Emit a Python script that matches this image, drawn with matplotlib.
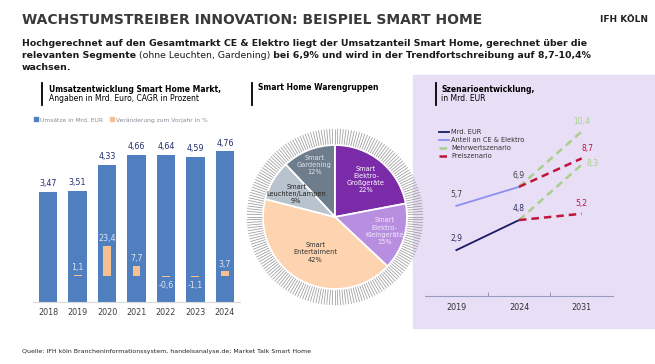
import numpy as np
import matplotlib.pyplot as plt
from matplotlib.patches import Rectangle, Patch
from matplotlib.lines import Line2D
from matplotlib.collections import LineCollection

# Umsatzentwicklung (Balken)
jahre = ["2018", "2019", "2020", "2021", "2022", "2023", "2024"]
umsatz = [3.47, 3.51, 4.33, 4.66, 4.64, 4.59, 4.76]
veraenderung = [np.nan, 1.1, 23.4, 7.7, -0.6, -1.1, 3.7]

# Warengruppen (Kuchen)
pie_labels = ["Smart\nGardening", "Smart\nElektro-\nGroßgeräte", "Smart\nElektro-\nKleingeräte",
              "Smart\nEntertaiment", "Smart\nLeuchten/Lampen"]
pie_anteile = [12, 22, 15, 42, 9]

# Szenarioentwicklung (Linien)
szen_jahre = ["2019", "2024", "2031"]
mrd_eur = [2.9, 4.8]          # 2019, 2024
anteil = [5.7, 6.9]           # 2019, 2024
mehrwert_anteil = [6.9, 10.4]  # 2024, 2031
mehrwert_mrd = [4.8, 8.3]
preis_anteil = [6.9, 8.7]
preis_mrd = [4.8, 5.2]

W, H = 655, 364
def fx(p): return p / W
def fy(p): return 1 - p / H

def de(v, n=1):
    return f"{v:.{n}f}".replace(".", ",")

fig = plt.figure(figsize=(6.55, 3.64), dpi=100)
rend = fig.canvas.get_renderer()

# lavender background right panel
fig.add_artist(Rectangle((fx(413), fy(328)), fx(655) - fx(413), fy(75) - fy(328),
                         transform=fig.transFigure, color="#e8def6", zorder=0))

# title + subtitle
fig.text(fx(22), fy(20), "WACHSTUMSTREIBER INNOVATION: BEISPIEL SMART HOME",
         fontsize=10, fontweight="bold", color="#3a3a3a", va="center")
fig.text(fx(648), fy(20), "IFH KÖLN", fontsize=6.5, fontweight="bold", color="#222222",
         ha="right", va="center")

sub_col = "#1a1a1a"
sub_fs = 6.75
fig.text(fx(22), fy(44), "Hochgerechnet auf den Gesamtmarkt CE & Elektro liegt der Umsatzanteil Smart Home, gerechnet über die",
         fontsize=sub_fs, fontweight="bold", color=sub_col, va="center")
x = fx(22)
for s, w in [("relevanten Segmente", "bold"), (" (ohne Leuchten, Gardening)", "normal"),
             (" bei 6,9% und wird in der Trendfortschreibung auf 8,7-10,4%", "bold")]:
    t = fig.text(x, fy(56), s, fontsize=sub_fs, fontweight=w, color=sub_col, va="center")
    x += t.get_window_extent(renderer=rend).width / fig.bbox.width
fig.text(fx(22), fy(68), "wachsen.", fontsize=sub_fs, fontweight="bold", color=sub_col, va="center")

# panel headers
for bx in [42, 252, 436]:
    fig.add_artist(Line2D([fx(bx), fx(bx)], [fy(83), fy(105)], color="black", lw=1.3))
fig.text(fx(49), fy(89), "Umsatzentwicklung Smart Home Markt,", fontsize=5.5, fontweight="bold", va="center")
fig.text(fx(49), fy(98.5), "Angaben in Mrd. Euro, CAGR in Prozent", fontsize=5.5, va="center")
fig.text(fx(258), fy(88), "Smart Home Warengruppen", fontsize=5.5, fontweight="bold", va="center")
fig.text(fx(441), fy(89), "Szenarioentwicklung,", fontsize=5.5, fontweight="bold", va="center")
fig.text(fx(441), fy(98.5), "in Mrd. EUR", fontsize=5.5, va="center")

# ---------- bar chart ----------
blau = "#4f7fbf"
orange = "#f8c090"
ax = fig.add_axes([fx(33), fy(302), fx(240) - fx(33), fy(128) - fy(302)])
xs = np.arange(len(jahre))
ax.bar(xs, umsatz, width=0.64, color=blau, zorder=2)
for i, v in enumerate(umsatz):
    ax.text(i, v + 0.12, de(v, 2), ha="center", va="bottom", fontsize=5.8, color="#24306e")
ax.set_xlim(-0.51, 6.51)
ax.set_ylim(0, 5.5)
ax.set_xticks(xs)
ax.set_xticklabels(jahre, fontsize=5.8, color="#404040")
ax.tick_params(length=0, pad=4)
ax.set_yticks([])
for s in ["top", "right", "left"]:
    ax.spines[s].set_visible(False)
ax.spines["bottom"].set_color("#d9d9d9")
ax.patch.set_alpha(0)

ax2 = ax.twinx()
ax2.bar(xs, veraenderung, width=0.27, color=orange, zorder=3)
for i, v in enumerate(veraenderung):
    if np.isnan(v):
        continue
    if v >= 0:
        ax2.text(i, v + 2, de(v), ha="center", va="bottom", fontsize=5.8, color="#dde3f3")
    else:
        ax2.text(i, v - 3, de(v), ha="center", va="top", fontsize=5.8, color="#dde3f3")
ax2.set_ylim(-20, 114)
ax2.set_yticks([])
for s in ax2.spines.values():
    s.set_visible(False)

ax.legend(handles=[Patch(color=blau, label="Umsätze in Mrd. EUR"),
                   Patch(color=orange, label="Veränderung zum Vorjahr in %")],
          loc="center left", bbox_to_anchor=(fx(31), fy(120)), bbox_transform=fig.transFigure,
          ncol=2, frameon=False, fontsize=4.3, labelcolor="#8a8a9a", handlelength=0.6,
          handleheight=0.6, handletextpad=0.4, columnspacing=1.2, borderpad=0)

# ---------- pie ----------
pax = fig.add_axes([fx(335 - 90), fy(217 + 90), fx(180), 180 / H])
ang = np.deg2rad(np.arange(0, 360, 1.8))
segs = [[(0.81 * np.cos(a), 0.81 * np.sin(a)), (0.98 * np.cos(a), 0.98 * np.sin(a))] for a in ang]
pax.add_collection(LineCollection(segs, colors="#9a9a9a", linewidths=0.55))

pie_farben = ["#6e7d8c", "#7b2aa8", "#b88fe0", "#fdd3b0", "#b9c3cd"]
wedges, _ = pax.pie(pie_anteile, colors=pie_farben, startangle=90 + pie_anteile[0] * 3.6,
                    counterclock=False, radius=0.8,
                    wedgeprops=dict(edgecolor="white", linewidth=1.3))
pax.set_xlim(-1, 1)
pax.set_ylim(-1, 1)
pax.set_aspect("equal")
pax.axis("off")
label_r = [0.62, 0.54, 0.57, 0.45, 0.5]
label_col = ["#dfe4ea", "white", "#f3eafc", "#333333", "#222222"]
for w, lab, p, rr, c in zip(wedges, pie_labels, pie_anteile, label_r, label_col):
    mid = np.deg2rad((w.theta1 + w.theta2) / 2)
    pax.text(rr * np.cos(mid), rr * np.sin(mid), f"{lab}\n{p}%", ha="center", va="center",
             fontsize=4.8, color=c, linespacing=1.25)

# ---------- scenario lines ----------
lax = fig.add_axes([fx(425), fy(296), fx(613) - fx(425), fy(110) - fy(296)])
lax.patch.set_alpha(0)
xi = np.arange(len(szen_jahre))
navy = "#1b1a66"
hellblau = "#8d8ff0"
gruen = "#a8d08c"
rot = "#c0143a"
lax.plot(xi[:2], mrd_eur, color=navy, lw=1.3, label="Mrd. EUR")
lax.plot(xi[:2], anteil, color=hellblau, lw=1.3, label="Anteil an CE & Elektro")
lax.plot(xi[1:], mehrwert_anteil, color=gruen, lw=1.8, ls=(0, (3, 2)), label="Mehrwertszenario")
lax.plot(xi[1:], mehrwert_mrd, color=gruen, lw=1.8, ls=(0, (3, 2)))
lax.plot(xi[1:], preis_anteil, color=rot, lw=1.8, ls=(0, (3, 2)), label="Preiszenario")
lax.plot(xi[1:], preis_mrd, color=rot, lw=1.8, ls=(0, (3, 2)))

fs = 5.5
lax.text(0, mrd_eur[0] + 0.45, de(mrd_eur[0]), ha="center", va="bottom", fontsize=fs, color="#2a2f5e")
lax.text(1, mrd_eur[1] + 0.45, de(mrd_eur[1]), ha="center", va="bottom", fontsize=fs, color="#2a2f5e")
lax.text(0, anteil[0] + 0.45, de(anteil[0]), ha="center", va="bottom", fontsize=fs, color="#444444")
lax.text(1, anteil[1] + 0.45, de(anteil[1]), ha="center", va="bottom", fontsize=fs, color="#444444")
lax.text(2, mehrwert_anteil[1] + 0.35, de(mehrwert_anteil[1]), ha="center", va="bottom", fontsize=fs, color=gruen)
lax.text(2.1, preis_anteil[1] + 0.35, de(preis_anteil[1]), ha="center", va="bottom", fontsize=fs, color=rot)
lax.text(2.08, mehrwert_mrd[1] + 0.1, de(mehrwert_mrd[1]), ha="left", va="center", fontsize=fs, color=gruen)
lax.text(2.0, preis_mrd[1] + 0.35, de(preis_mrd[1]), ha="center", va="bottom", fontsize=fs, color=rot)

lax.set_xlim(-0.5, 2.5)
lax.set_ylim(0, 11.76)
lax.set_xticks(xi)
lax.set_xticklabels(szen_jahre, fontsize=5.8, color="#333333")
lax.set_xticks([0.5, 1.5], minor=True)
lax.tick_params(axis="x", which="major", length=0, pad=5)
lax.tick_params(axis="x", which="minor", length=3, direction="in", color="#8888aa")
lax.set_yticks([])
for s in ["top", "right", "left"]:
    lax.spines[s].set_visible(False)
lax.spines["bottom"].set_color("#9a9ac0")

lax.legend(loc="upper left", bbox_to_anchor=(fx(436), fy(126)), bbox_transform=fig.transFigure,
           frameon=False, fontsize=4.8, labelcolor="#333333", handlelength=1.4,
           handletextpad=0.4, labelspacing=0.3, borderpad=0)

fig.text(fx(22), fy(352), "Quelle: IFH köln Brancheninformationssystem, handelsanalyse.de; Market Talk Smart Home",
         fontsize=4.5, color="#222222", va="center")

fig.savefig("out.png", dpi=100)
